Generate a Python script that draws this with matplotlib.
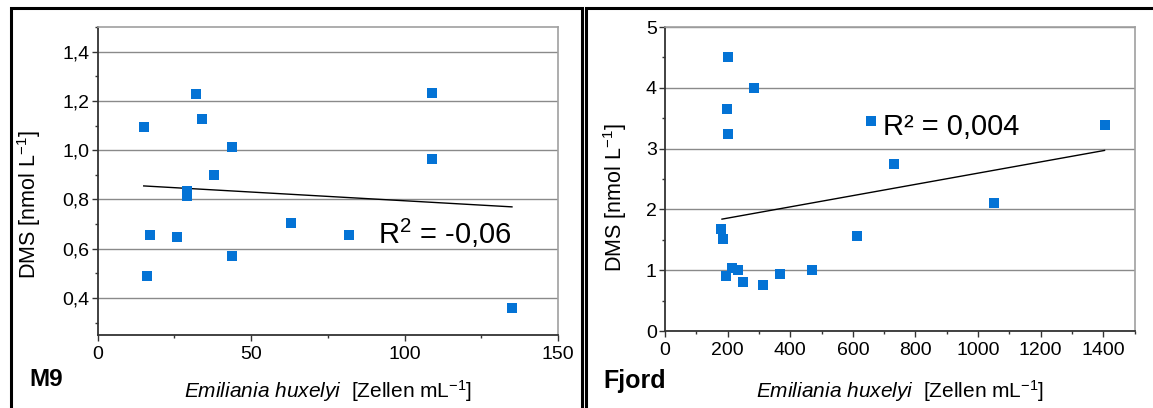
"""
DMS vs. Emiliania huxleyi cell counts, stations M9 and Fjord.
"""

import matplotlib.pyplot as plt
from matplotlib.patches import Rectangle
from matplotlib.ticker import MultipleLocator, FuncFormatter

plt.rcParams['font.family'] = ['Liberation Sans', 'DejaVu Sans']
plt.rcParams['mathtext.fontset'] = 'custom'
plt.rcParams['mathtext.rm'] = 'Liberation Sans'
plt.rcParams['mathtext.it'] = 'Liberation Sans:italic'

# M9 station
m9_cells = [15.1, 16.0, 17.0, 26.0, 29.1, 29.1, 32.0, 34.0, 38.0, 43.9, 43.9,
            63.1, 82.0, 108.9, 108.9, 135.1]
m9_dms = [1.093, 0.489, 0.654, 0.646, 0.836, 0.815, 1.230, 1.127, 0.901, 1.014,
          0.572, 0.705, 0.655, 1.232, 0.965, 0.359]
m9_fit_x = [15.0, 135.0]
m9_fit_y = [0.855, 0.770]
m9_r2 = 'R$^2$ = -0,06'

# Fjord station
fj_cells = [202, 285, 198, 202, 179, 186, 194, 213, 232, 248, 314, 368, 469,
            613, 658, 733, 1051, 1404]
fj_dms = [4.50, 4.00, 3.65, 3.245, 1.67, 1.51, 0.91, 1.03, 1.00, 0.81, 0.76,
          0.94, 1.00, 1.56, 3.45, 2.75, 2.10, 3.39]
fj_fit_x = [182, 1404]
fj_fit_y = [1.84, 2.97]
fj_r2 = 'R² = 0,004'

BLUE = '#0473d5'
XLABEL = r'$\it{Emiliania\ huxelyi}$  [Zellen mL$^{-1}$]'
YLABEL = r'DMS [nmol L$^{-1}$]'

W, H = 1153, 408
fig = plt.figure(figsize=(W / 100, H / 100), dpi=100)


def px_axes(x0, x1, y0, y1):
    return fig.add_axes([x0 / W, 1 - y1 / H, (x1 - x0) / W, (y1 - y0) / H])


def style(ax):
    ax.grid(axis='y', color='#8a8a8a', linewidth=1.0)
    ax.set_axisbelow(True)
    for s in ('top', 'right'):
        ax.spines[s].set_color('#a0a0a0')
        ax.spines[s].set_linewidth(1.2)
    for s in ('left', 'bottom'):
        ax.spines[s].set_color('#333333')
        ax.spines[s].set_linewidth(1.3)
    ax.tick_params(which='both', direction='out', top=False, right=False,
                   labelsize=14, colors='#333333', labelcolor='black')
    ax.tick_params(which='major', length=4, width=1)
    ax.tick_params(which='minor', length=2.5, width=1)
    ax.tick_params(axis='x', pad=4)
    ax.tick_params(axis='y', pad=2)


# Left panel: M9
ax1 = px_axes(97.7, 558, 27, 335)
ax1.scatter(m9_cells, m9_dms, marker='s', s=55, color=BLUE, linewidths=0, zorder=3)
ax1.plot(m9_fit_x, m9_fit_y, color='black', linewidth=1.0, zorder=2)
ax1.set_xlim(0, 150)
ax1.set_ylim(0.25, 1.5)
ax1.xaxis.set_major_locator(MultipleLocator(50))
ax1.xaxis.set_minor_locator(MultipleLocator(25))
ax1.yaxis.set_major_locator(MultipleLocator(0.2))
ax1.yaxis.set_minor_locator(MultipleLocator(0.1))
ax1.yaxis.set_major_formatter(FuncFormatter(lambda v, _: f'{v:.1f}'.replace('.', ',')))
style(ax1)
ax1.text(135, 0.62, m9_r2, ha='right', va='baseline', fontsize=21)

# Right panel: Fjord
ax2 = px_axes(665, 1134.6, 27, 331)
ax2.scatter(fj_cells, fj_dms, marker='s', s=55, color=BLUE, linewidths=0, zorder=3)
ax2.plot(fj_fit_x, fj_fit_y, color='black', linewidth=1.0, zorder=2)
ax2.set_xlim(0, 1500)
ax2.set_ylim(0, 5)
ax2.xaxis.set_major_locator(MultipleLocator(200))
ax2.xaxis.set_minor_locator(MultipleLocator(100))
ax2.xaxis.set_major_formatter(FuncFormatter(lambda v, _: f'{v:.0f}' if v <= 1400 else ''))
ax2.yaxis.set_major_locator(MultipleLocator(1))
ax2.yaxis.set_minor_locator(MultipleLocator(0.5))
style(ax2)
ax2.text(1131, 3.22, fj_r2, ha='right', va='baseline', fontsize=21)

# Axis titles and panel names in figure pixels
fig.text(29 / W, 1 - 205 / H, YLABEL, rotation=90, ha='center', va='center', fontsize=15.5)
fig.text(615 / W, 1 - 198 / H, YLABEL, rotation=90, ha='center', va='center', fontsize=15.5)
fig.text(328 / W, 1 - 391 / H, XLABEL, ha='center', va='center', fontsize=15)
fig.text(900 / W, 1 - 391 / H, XLABEL, ha='center', va='center', fontsize=15)
fig.text(29 / W, 1 - 380 / H, 'M9', ha='left', va='center', fontsize=17.5, fontweight='bold')
fig.text(603 / W, 1 - 381 / H, 'Fjord', ha='left', va='center', fontsize=18, fontweight='bold')

# Panel frames
for x0, x1 in ((11, 582), (586, 1160)):
    fig.add_artist(Rectangle((x0 / W, -0.1), (x1 - x0) / W, 1.1 - 8 / H,
                             transform=fig.transFigure, fill=False,
                             edgecolor='black', linewidth=2.2, clip_on=False))

fig.savefig('out.png', dpi=100)
